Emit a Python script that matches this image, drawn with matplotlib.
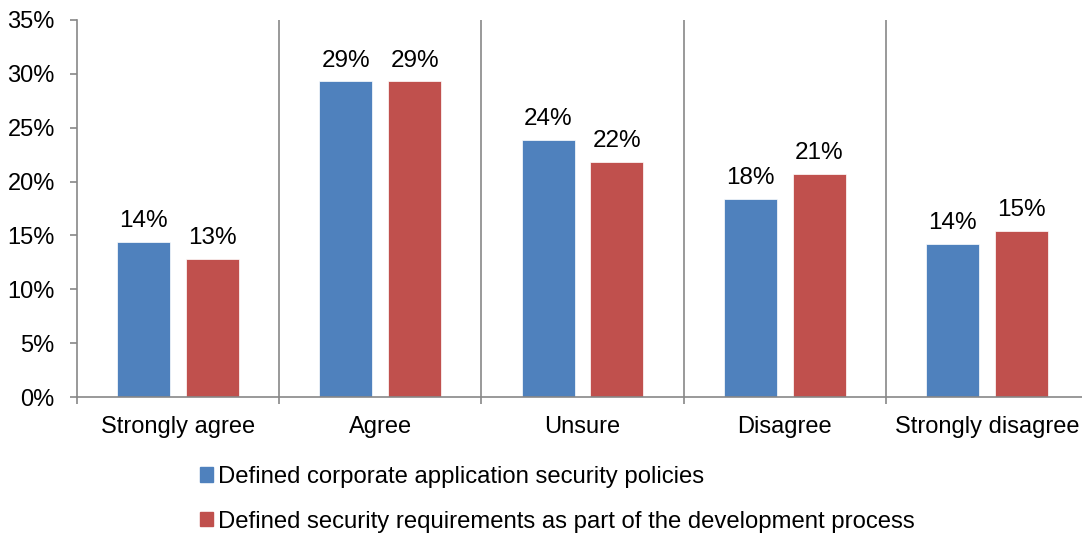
import matplotlib.pyplot as plt
import numpy as np
from matplotlib.patches import Patch

plt.rcParams['font.family'] = ['Liberation Sans', 'DejaVu Sans']

categories = ["Strongly agree", "Agree", "Unsure", "Disagree", "Strongly disagree"]
policies = [14.4, 29.3, 23.9, 18.4, 14.2]
requirements = [12.8, 29.3, 21.8, 20.7, 15.4]
series_names = ["Defined corporate application security policies",
                "Defined security requirements as part of the development process"]

blue = "#4F81BD"
red = "#C0504D"
grid = "#878787"

fig = plt.figure(figsize=(10.82, 5.33), dpi=100)
ax = fig.add_axes([77 / 1082, 1 - 397 / 533, 1011 / 1082, 377 / 533])

x = np.arange(len(categories))
w = 0.262
gap = 0.079
b1 = ax.bar(x - (w + gap) / 2, policies, w, color=blue, edgecolor="white", linewidth=0.5)
b2 = ax.bar(x + (w + gap) / 2, requirements, w, color=red, edgecolor="white", linewidth=0.5)

for bars, vals in ((b1, policies), (b2, requirements)):
    for b, v in zip(bars, vals):
        ax.annotate(f"{round(v):d}%", (b.get_x() + b.get_width() / 2, v),
                    xytext=(0, 7), textcoords="offset points",
                    ha="center", va="bottom", fontsize=17.5)

ax.set_xlim(-0.5, len(categories) - 0.5)
ax.set_ylim(0, 35)
ax.set_yticks(np.arange(0, 36, 5))
ax.set_yticklabels([f"{t}%" for t in range(0, 36, 5)], fontsize=17)

# separators between categories, with small ticks under the axis
for s in np.arange(0.5, len(categories) - 0.5, 1):
    ax.axvline(s, color=grid, lw=1.2, zorder=0)
ax.set_xticks(np.arange(-0.5, len(categories), 1), minor=False)
ax.set_xticklabels([])
ax.set_xticks(x, minor=True)
ax.set_xticklabels(categories, minor=True, fontsize=17)
ax.tick_params(axis="x", which="major", length=5, color=grid, width=1.2)
ax.tick_params(axis="x", which="minor", length=0, pad=13.5)
ax.tick_params(axis="y", length=5, color=grid, width=1.2, pad=11)

for side in ("top", "right"):
    ax.spines[side].set_visible(False)
for side in ("left", "bottom"):
    ax.spines[side].set_color(grid)
    ax.spines[side].set_linewidth(1.2)

handles = [Patch(color=blue), Patch(color=red)]
fig.legend(handles, series_names, loc="upper left", bbox_to_anchor=(200 / 1082, 1 - 466 / 533),
           frameon=False, fontsize=17.2, handlelength=0.55, handleheight=0.55,
           handletextpad=0.2, labelspacing=0.95, borderpad=0, borderaxespad=0)

fig.savefig("out.png", dpi=100)
